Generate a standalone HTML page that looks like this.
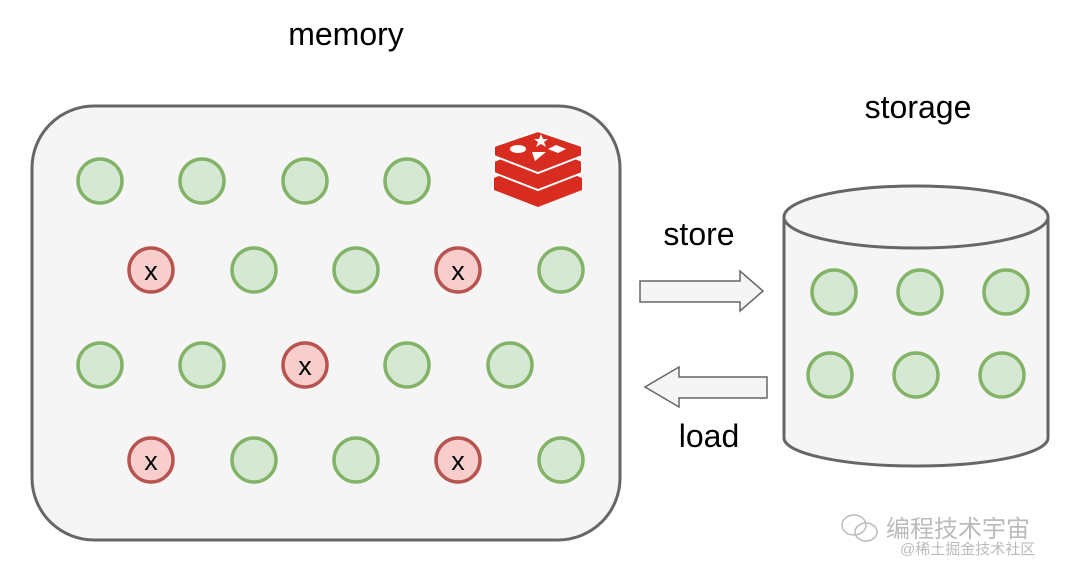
<!DOCTYPE html>
<html><head><meta charset="utf-8"><style>
html,body{margin:0;padding:0;background:#fff;width:1080px;height:576px;overflow:hidden}
text{font-family:"Liberation Sans",Arial,sans-serif}
</style></head><body>
<svg width="1080" height="576" viewBox="0 0 1080 576" xmlns="http://www.w3.org/2000/svg">
<text x="346" y="45" font-size="32" text-anchor="middle" fill="#000">memory</text>
<text x="918" y="118" font-size="32" text-anchor="middle" fill="#000">storage</text>
<text x="699" y="245" font-size="32" text-anchor="middle" fill="#000">store</text>
<text x="709" y="447" font-size="32" text-anchor="middle" fill="#000">load</text>
<rect x="32" y="106" width="588" height="434" rx="62" fill="#f5f5f5" stroke="#666" stroke-width="3"/>
<g fill="#d5e8d4" stroke="#82b366" stroke-width="3.5">
<circle cx="100" cy="181" r="22"/><circle cx="202" cy="181" r="22"/><circle cx="305" cy="181" r="22"/><circle cx="407" cy="181" r="22"/>
<circle cx="254" cy="270" r="22"/><circle cx="356" cy="270" r="22"/><circle cx="561" cy="270" r="22"/>
<circle cx="100" cy="365" r="22"/><circle cx="202" cy="365" r="22"/><circle cx="407" cy="365" r="22"/><circle cx="510" cy="365" r="22"/>
<circle cx="254" cy="460" r="22"/><circle cx="356" cy="460" r="22"/><circle cx="561" cy="460" r="22"/>
</g>
<g fill="#f8cecc" stroke="#b85450" stroke-width="3.5">
<circle cx="151" cy="270" r="22"/><circle cx="458" cy="270" r="22"/><circle cx="305" cy="365" r="22"/><circle cx="151" cy="460" r="22"/><circle cx="458" cy="460" r="22"/>
</g>
<g font-size="27" text-anchor="middle" fill="#000">
<text x="151" y="280">x</text><text x="458" y="280">x</text><text x="305" y="375">x</text><text x="151" y="470">x</text><text x="458" y="470">x</text>
</g>
<g fill="#d82c20">
<path d="M494 178 L538 160 L582 178 L582 190 L538 207 L494 190 Z"/>
<path d="M494 161 L538 143 L582 161 L582 173 L538 190 L494 173 Z" stroke="#fff" stroke-width="2"/>
<path d="M494 146 L538 131 L582 146 L582 156 L538 173 L494 156 Z" stroke="#fff" stroke-width="2"/>
</g>
<g fill="#fff">
<ellipse cx="518" cy="149" rx="8" ry="4"/>
<polygon points="556,145 566,149 558,153 548,149"/>
<polygon points="532,152 546,152 535,161"/>
<polygon points="541,134 543,139 548,139 544,142 546,147 541,144 536,147 538,142 534,139 539,139"/>
</g>
<path d="M640 281 L740 281 L740 271 L763 291 L740 311 L740 302 L640 302 Z" fill="#f5f5f5" stroke="#666" stroke-width="1.5"/>
<path d="M767 377 L679 377 L679 367 L645 387 L679 407 L679 398 L767 398 Z" fill="#f5f5f5" stroke="#666" stroke-width="1.5"/>
<path d="M784 217 L784 438 A132 28 0 0 0 1048 438 L1048 217" fill="#f5f5f5" stroke="#666" stroke-width="3"/>
<ellipse cx="916" cy="217" rx="132" ry="31" fill="#f5f5f5" stroke="#666" stroke-width="3"/>
<g fill="#d5e8d4" stroke="#82b366" stroke-width="3.5">
<circle cx="834" cy="292" r="22"/><circle cx="920" cy="292" r="22"/><circle cx="1006" cy="292" r="22"/>
<circle cx="830" cy="375" r="22"/><circle cx="916" cy="375" r="22"/><circle cx="1002" cy="375" r="22"/>
</g>
<g fill="none" stroke="#bbb" stroke-width="1.5">
<ellipse cx="854" cy="525" rx="12" ry="10"/><ellipse cx="866" cy="532" rx="11" ry="9"/>
</g>
<text x="886" y="537" font-size="24" fill="#bbb" font-family="'Noto Sans CJK SC',sans-serif">编程技术宇宙</text>
<text x="900" y="554" font-size="15" fill="#bbb" font-family="'Noto Sans CJK SC',sans-serif">@稀土掘金技术社区</text>
</svg>
</body></html>
